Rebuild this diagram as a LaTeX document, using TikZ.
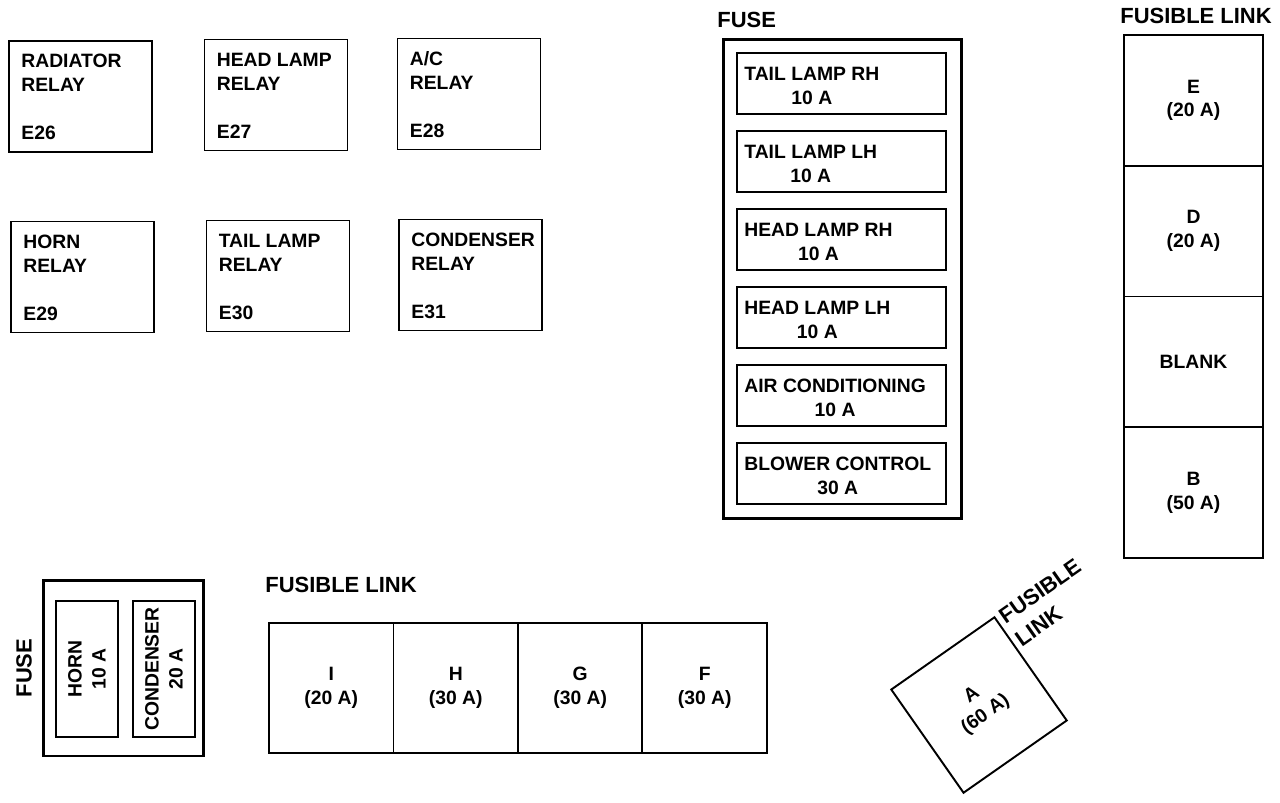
\documentclass[tikz,border=0pt]{standalone}
\usepackage{fontspec}
\setmainfont{Liberation Sans}
\usetikzlibrary{positioning}

\begin{document}
\begin{tikzpicture}[
    x=0.02cm,
    y=-0.02cm,
    relaybox/.style={
        rectangle,
        draw=black,
        line width=1.1pt,
        minimum width=2.86cm,
        minimum height=2.22cm,
        inner sep=0pt,
        outer sep=0pt
    },
    fuseframe/.style={
        rectangle,
        draw=black,
        line width=1.7pt,
        inner sep=0pt,
        outer sep=0pt
    },
    fusebox/.style={
        rectangle,
        draw=black,
        line width=1.1pt,
        minimum width=4.18cm,
        minimum height=1.22cm,
        inner sep=0pt,
        outer sep=0pt
    },
    linkcell/.style={
        rectangle,
        draw=black,
        line width=1.1pt,
        align=center,
        inner sep=0pt,
        outer sep=0pt,
        font=\fontsize{11}{13.6}\selectfont\bfseries
    },
    bodytext/.style={
        inner sep=0pt,
        font=\fontsize{11}{13.6}\selectfont\bfseries
    },
    headtext/.style={
        inner sep=0pt,
        font=\fontsize{12.5}{16}\selectfont\bfseries
    }
]
\useasboundingbox (0,0) rectangle (1280,802);
% -------------------------------------------------------------
% RELAYS, UPPER ROW
% -------------------------------------------------------------
\node[relaybox] (relayE26) at (80.5,96.5) {};
\node[bodytext, align=left, anchor=north west] (relayE26Name)
    at ([shift={(12,13)}]relayE26.north west) {RADIATOR\\RELAY};
\node[bodytext, anchor=base west] (relayE26Code)
    at ([shift={(12,-12)}]relayE26.south west) {E26};

\node[relaybox] (relayE27) at (276,95) {};
\node[bodytext, align=left, anchor=north west] (relayE27Name)
    at ([shift={(12,13)}]relayE27.north west) {HEAD LAMP\\RELAY};
\node[bodytext, anchor=base west] (relayE27Code)
    at ([shift={(12,-12)}]relayE27.south west) {E27};

\node[relaybox] (relayE28) at (469,94) {};
\node[bodytext, align=left, anchor=north west] (relayE28Name)
    at ([shift={(12,13)}]relayE28.north west) {A/C\\RELAY};
\node[bodytext, anchor=base west] (relayE28Code)
    at ([shift={(12,-12)}]relayE28.south west) {E28};
% -------------------------------------------------------------
% RELAYS, LOWER ROW
% -------------------------------------------------------------
\node[relaybox] (relayE29) at (82.5,277) {};
\node[bodytext, align=left, anchor=north west] (relayE29Name)
    at ([shift={(12,13)}]relayE29.north west) {HORN\\RELAY};
\node[bodytext, anchor=base west] (relayE29Code)
    at ([shift={(12,-12)}]relayE29.south west) {E29};

\node[relaybox] (relayE30) at (278,276) {};
\node[bodytext, align=left, anchor=north west] (relayE30Name)
    at ([shift={(12,13)}]relayE30.north west) {TAIL LAMP\\RELAY};
\node[bodytext, anchor=base west] (relayE30Code)
    at ([shift={(12,-12)}]relayE30.south west) {E30};

\node[relaybox] (relayE31) at (470.5,275) {};
\node[bodytext, align=left, anchor=north west] (relayE31Name)
    at ([shift={(12,13)}]relayE31.north west) {CONDENSER\\RELAY};
\node[bodytext, anchor=base west] (relayE31Code)
    at ([shift={(12,-12)}]relayE31.south west) {E31};
% -------------------------------------------------------------
% FUSE BLOCK
% -------------------------------------------------------------
\node[fuseframe, minimum width=4.78cm, minimum height=9.6cm] (fuseBlock) at (842.5,279) {};
\node[headtext, anchor=base west] (fuseBlockLabel)
    at ([shift={(-6,-12)}]fuseBlock.north west) {FUSE};

\node[fusebox] (fuseTailRH) at (841.5,83.5) {};
\node[fusebox, below=0.34cm of fuseTailRH] (fuseTailLH) {};
\node[fusebox, below=0.34cm of fuseTailLH] (fuseHeadRH) {};
\node[fusebox, below=0.34cm of fuseHeadRH] (fuseHeadLH) {};
\node[fusebox, below=0.34cm of fuseHeadLH] (fuseAirCon) {};
\node[fusebox, below=0.34cm of fuseAirCon] (fuseBlower) {};

\node[bodytext, align=center, anchor=north west]
    at ([shift={(7,14)}]fuseTailRH.north west) {TAIL LAMP RH\\10 A};
\node[bodytext, align=center, anchor=north west]
    at ([shift={(7,14)}]fuseTailLH.north west) {TAIL LAMP LH\\10 A};
\node[bodytext, align=center, anchor=north west]
    at ([shift={(7,14)}]fuseHeadRH.north west) {HEAD LAMP RH\\10 A};
\node[bodytext, align=center, anchor=north west]
    at ([shift={(7,14)}]fuseHeadLH.north west) {HEAD LAMP LH\\10 A};
\node[bodytext, align=center, anchor=north west]
    at ([shift={(7,14)}]fuseAirCon.north west) {AIR CONDITIONING\\10 A};
\node[bodytext, align=center, anchor=north west]
    at ([shift={(7,14)}]fuseBlower.north west) {BLOWER CONTROL\\30 A};
% -------------------------------------------------------------
% FUSIBLE LINK, RIGHT
% -------------------------------------------------------------
\node[linkcell, minimum width=2.78cm, minimum height=2.615cm] (linkE) at (1193.5,100.4) {E\\(20 A)};
\node[linkcell, minimum width=2.78cm, minimum height=2.615cm, below=0pt of linkE] (linkD) {D\\(20 A)};
\node[linkcell, minimum width=2.78cm, minimum height=2.615cm, below=0pt of linkD] (linkBlank) {BLANK};
\node[linkcell, minimum width=2.78cm, minimum height=2.615cm, below=0pt of linkBlank] (linkB) {B\\(50 A)};
\node[headtext, anchor=base west] (linkRightLabel)
    at ([shift={(-4,-12)}]linkE.north west) {FUSIBLE LINK};
% -------------------------------------------------------------
% FUSIBLE LINK, BOTTOM
% -------------------------------------------------------------
\node[linkcell, minimum width=2.49cm, minimum height=2.6cm] (linkI) at (331.25,688) {I\\(20 A)};
\node[linkcell, minimum width=2.49cm, minimum height=2.6cm, right=0pt of linkI] (linkH) {H\\(30 A)};
\node[linkcell, minimum width=2.49cm, minimum height=2.6cm, right=0pt of linkH] (linkG) {G\\(30 A)};
\node[linkcell, minimum width=2.49cm, minimum height=2.6cm, right=0pt of linkG] (linkF) {F\\(30 A)};
\node[headtext, anchor=base west] (linkBottomLabel)
    at ([shift={(-4,-31)}]linkI.north west) {FUSIBLE LINK};
% -------------------------------------------------------------
% SMALL FUSE BLOCK
% -------------------------------------------------------------
\node[fuseframe, minimum width=3.22cm, minimum height=3.52cm] (smallFuse) at (123.5,668) {};
\node[fusebox, minimum width=1.24cm, minimum height=2.72cm] (fuseHorn) at (87,669) {};
\node[fusebox, minimum width=1.24cm, minimum height=2.72cm] (fuseCondenser) at (164,669) {};
\node[bodytext, align=center, rotate=90] at (fuseHorn.center) {HORN\\10 A};
\node[bodytext, align=center, rotate=90] at (fuseCondenser.center) {CONDENSER\\20 A};
\node[headtext, rotate=90] (smallFuseLabel)
    at ([xshift=-0.38cm]smallFuse.west) {FUSE};
% -------------------------------------------------------------
% FUSIBLE LINK A
% -------------------------------------------------------------
\node[linkcell, minimum size=2.52cm, rotate=35] (linkA) at (979,705) {A\\(60 A)};
\node[headtext, align=left, rotate=35, anchor=base west] (linkALabel)
    at ([shift={(27,30)}]linkA.north east) {FUSIBLE\\LINK};
\end{tikzpicture}
\end{document}
